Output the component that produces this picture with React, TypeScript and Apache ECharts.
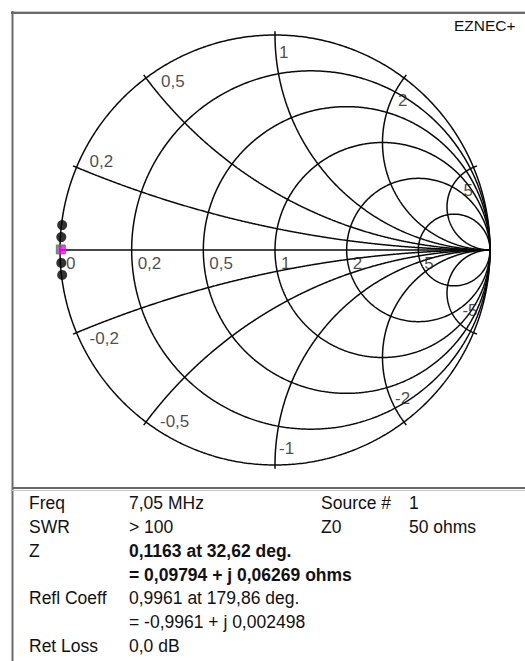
import React, { useEffect, useRef } from "react";
import * as echarts from "echarts";

// Smith chart grid values (normalised impedance)
const resistanceValues = [0, 0.2, 0.5, 1, 2, 5];
const resistanceLabels = ["0", "0,2", "0,5", "1", "2", "5"];
const reactanceValues = [0.2, 0.5, 1, 2, 5, -0.2, -0.5, -1, -2, -5];
const reactanceLabels = ["0,2", "0,5", "1", "2", "5", "-0,2", "-0,5", "-1", "-2", "-5"];

// sweep points, reflection coefficient (real, imaginary)
const sweepRe = [-0.99, -0.994, -0.9961, -0.994, -0.99];
const sweepIm = [0.116, 0.06, 0.002498, -0.06, -0.116];
const currentIndex = 2;

// info panel
const infoLabels = ["Freq", "SWR", "Z", "", "Refl Coeff", "", "Ret Loss"];
const infoValues = [
  "7,05 MHz",
  "> 100",
  "0,1163 at 32,62 deg.",
  "= 0,09794 + j 0,06269 ohms",
  "0,9961 at 179,86 deg.",
  "= -0,9961 + j 0,002498",
  "0,0 dB",
];
const infoBold = [false, false, true, true, false, false, false];
const sideLabels = ["Source #", "Z0"];
const sideValues = ["1", "50 ohms"];
const brand = "EZNEC+";

// layout (pixel offsets of labels from their anchor points)
const reactLabelOffsets = [
  [13, -6], [15, 3], [4, 17], [-6, 22], [-10, 23],
  [13, 6], [14, -1], [4, -17], [-9, -24], [-11, -22],
];
const resLabelOffset = [6, 13];

const FONT = '"Liberation Sans", Arial, sans-serif';

export default function App() {
  const ref = useRef<HTMLDivElement>(null);
  useEffect(() => {
    const el = ref.current as HTMLDivElement;
    const chart = echarts.init(el, null, { renderer: "svg" });
    const series: any[] = [];
    const lineStyle = { color: "#0a0a0a", width: 1.5 };
    const addLine = (pts: number[][]) =>
      series.push({
        type: "line",
        data: pts,
        showSymbol: false,
        symbol: "none",
        clip: false,
        silent: true,
        lineStyle,
        z: 2,
      });

    // resistance circles (incl. outer circle r = 0)
    resistanceValues.forEach((r) => {
      const cx = r / (1 + r);
      const rad = 1 / (1 + r);
      const pts: number[][] = [];
      for (let i = 0; i <= 720; i++) {
        const a = (i * Math.PI) / 360;
        pts.push([cx + rad * Math.cos(a), rad * Math.sin(a)]);
      }
      addLine(pts);
    });

    // horizontal axis
    addLine([[-1, 0], [1, 0]]);

    // reactance arcs
    const endpoint = (x: number) => [(x * x - 1) / (x * x + 1), (2 * x) / (x * x + 1)];
    reactanceValues.forEach((x) => {
      const ax = Math.abs(x);
      const [ex, ey] = endpoint(ax);
      const cy = 1 / ax;
      const rad = 1 / ax;
      let th = Math.atan2(ey - cy, ex - 1);
      if (th < 0) th += 2 * Math.PI;
      const end = 1.5 * Math.PI;
      const pts: number[][] = [];
      const n = 500;
      for (let i = 0; i <= n; i++) {
        const a = th + ((end - th) * i) / n;
        const px = 1 + rad * Math.cos(a);
        const py = cy + rad * Math.sin(a);
        pts.push([px, x > 0 ? py : -py]);
      }
      addLine(pts);
      // small tick outside the outer circle
      const sy = x > 0 ? ey : -ey;
      addLine([[ex, sy], [ex * 1.018, sy * 1.018]]);
    });

    // grid labels
    const labelData: any[] = [];
    resistanceValues.forEach((r, i) => {
      labelData.push({
        value: [(r - 1) / (r + 1), 0],
        name: resistanceLabels[i],
        label: { offset: resLabelOffset },
      });
    });
    reactanceValues.forEach((x, i) => {
      const [ex, ey] = endpoint(Math.abs(x));
      labelData.push({
        value: [ex, x > 0 ? ey : -ey],
        name: reactanceLabels[i],
        label: { offset: reactLabelOffsets[i] },
      });
    });
    series.push({
      type: "scatter",
      data: labelData,
      symbolSize: 1,
      itemStyle: { color: "rgba(0,0,0,0)" },
      silent: true,
      z: 3,
      label: {
        show: true,
        position: "inside",
        align: "left",
        verticalAlign: "middle",
        formatter: (p: any) => p.name,
        color: "#1c1c1c",
        fontFamily: FONT,
        fontSize: 17,
      },
    });

    // sweep points
    const pts = sweepRe.map((re, i) => [re, sweepIm[i]]);
    series.push({
      type: "scatter",
      data: pts.filter((_, i) => i !== currentIndex),
      symbol: "circle",
      symbolSize: 10,
      itemStyle: { color: "#000" },
      silent: true,
      z: 4,
    });
    series.push({
      type: "scatter",
      data: [pts[currentIndex]],
      symbol: "rect",
      symbolSize: 9,
      itemStyle: { color: "#ff00ff", borderColor: "#00b000", borderWidth: 1 },
      silent: true,
      z: 5,
    });

    // frame and info panel
    const graphic: any[] = [
      { type: "line", shape: { x1: 11, y1: 11.5, x2: 525, y2: 11.5 }, style: { stroke: "#c8c8c8", lineWidth: 1 } },
      { type: "line", shape: { x1: 11, y1: 13, x2: 525, y2: 13 }, style: { stroke: "#6a6a6a", lineWidth: 2 } },
      { type: "line", shape: { x1: 12.5, y1: 11, x2: 12.5, y2: 661 }, style: { stroke: "#6a6a6a", lineWidth: 2 } },
      { type: "line", shape: { x1: 12, y1: 488, x2: 525, y2: 488 }, style: { stroke: "#6a6a6a", lineWidth: 2 } },
      { type: "line", shape: { x1: 12, y1: 490.5, x2: 525, y2: 490.5 }, style: { stroke: "#c8c8c8", lineWidth: 1 } },
      {
        type: "text",
        x: 454,
        y: 25,
        style: { text: brand, fill: "#111", font: `15.5px ${FONT}`, textAlign: "left", textVerticalAlign: "middle" },
      },
    ];
    const rowY = [503, 527, 551, 574.5, 598, 622, 645.5];
    infoLabels.forEach((t, i) => {
      if (t)
        graphic.push({
          type: "text",
          x: 29,
          y: rowY[i],
          style: { text: t, fill: "#111", font: `17.5px ${FONT}`, textVerticalAlign: "middle" },
        });
      graphic.push({
        type: "text",
        x: 129,
        y: rowY[i],
        style: {
          text: infoValues[i],
          fill: "#111",
          font: `${infoBold[i] ? "bold " : ""}17.5px ${FONT}`,
          textVerticalAlign: "middle",
        },
      });
    });
    sideLabels.forEach((t, i) => {
      graphic.push({
        type: "text",
        x: 321,
        y: rowY[i],
        style: { text: t, fill: "#111", font: `17.5px ${FONT}`, textVerticalAlign: "middle" },
      });
      graphic.push({
        type: "text",
        x: 409,
        y: rowY[i],
        style: { text: sideValues[i], fill: "#111", font: `17.5px ${FONT}`, textVerticalAlign: "middle" },
      });
    });

    chart.setOption({
      animation: false,
      backgroundColor: "#fff",
      grid: { left: 60, top: 35, width: 430, height: 430 },
      xAxis: { type: "value", min: -1, max: 1, show: false },
      yAxis: { type: "value", min: -1, max: 1, show: false },
      series,
      graphic,
    });
    return () => chart.dispose();
  }, []);
  return (
    <div
      ref={ref}
      style={{ position: "absolute", left: 0, top: 0, width: 525, height: 661, background: "#fff" }}
    />
  );
}
